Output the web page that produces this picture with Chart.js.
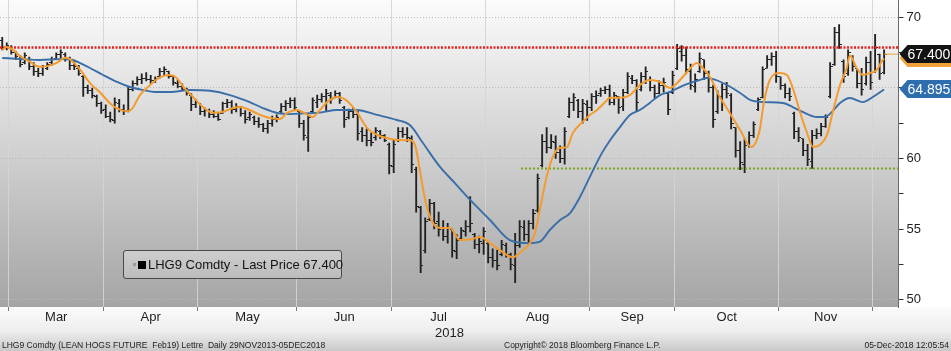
<!DOCTYPE html>
<html>
<head>
<meta charset="utf-8">
<title>LHG9 Comdty</title>
<script src="https://cdn.jsdelivr.net/npm/chart.js@4.4.1/dist/chart.umd.min.js"></script>
<style>
  body { margin: 0; background: #fff; }
  #wrap { position: relative; width: 951px; height: 351px; overflow: hidden; font-family: 'Liberation Sans', Arial, sans-serif; }
  #chart { position: absolute; left: 0; top: 0; }
  #legend { position: absolute; left: 123px; top: 250px; width: 217px; height: 27px; border: 1px solid #4a4a4a; border-radius: 3px;
            background: linear-gradient(#cecece, #bcbcbc); font-size: 13px; line-height: 27px; color: #141414; white-space: nowrap; }
  #legend .ghost { display: inline-block; width: 3px; height: 3px; background: #9a9a9a; margin: 0 2px 2px 9px; vertical-align: middle; }
  #legend .sq { display: inline-block; width: 8px; height: 8px; background: #000; margin: 0 2px 2px 0; vertical-align: middle; }
  .foot { position: absolute; top: 340px; font-size: 8.5px; color: #222; white-space: pre; }
</style>
</head>
<body>
<div id="wrap">
  <canvas id="chart" width="951" height="351"></canvas>
  <div id="legend"><span class="ghost"></span><span class="sq"></span><span id="legendText"></span></div>
  <div class="foot" style="left:2px">LHG9 Comdty (LEAN HOGS FUTURE  Feb19) Lettre  Daily 29NOV2013-05DEC2018</div>
  <div class="foot" style="left:504px">Copyright© 2018 Bloomberg Finance L.P.</div>
  <div class="foot" style="right:2px">05-Dec-2018 12:05:54</div>
</div>
<script>
// daily bars, 27 Feb 2018 -> 05 Dec 2018 (index = trading day)
var opens = [
  68.4, 67.9, 67.9, 67.5, 67.1, 66.8, 67.0, 66.5, 66.2, 66.0,
  66.4, 66.8, 67.1, 67.4, 67.4, 67.0, 66.6, 66.4, 65.8, 65.0,
  64.8, 64.4, 63.9, 63.5, 63.0, 62.7, 63.9, 63.5, 63.4, 64.9,
  65.3, 65.6, 65.7, 65.6, 65.5, 65.8, 66.2, 66.2, 65.8, 65.3,
  65.1, 64.9, 64.5, 63.8, 63.9, 63.3, 63.4, 63.1, 63.0, 63.2,
  63.9, 64.0, 63.5, 63.6, 63.2, 62.9, 62.9, 62.6, 62.4, 62.1,
  62.5, 62.8, 63.3, 63.7, 63.9, 64.1, 63.3, 62.5, 61.5, 63.3,
  64.0, 64.2, 64.4, 64.5, 64.3, 64.6, 63.6, 62.9, 63.3, 63.1,
  61.9, 61.6, 61.3, 61.5, 61.9, 61.6, 61.0, 59.4, 61.3, 61.9,
  61.7, 61.4, 59.2, 56.5, 53.5, 55.7, 56.8, 55.5, 55.1, 54.5,
  55.0, 53.4, 54.3, 54.8, 55.2, 54.6, 53.9, 54.0, 54.0, 53.0,
  52.8, 53.2, 53.8, 53.2, 52.4, 53.8, 55.1, 54.6, 55.4, 56.3,
  59.5, 61.2, 60.8, 61.1, 60.4, 60.0, 63.0, 64.0, 64.1, 63.3,
  63.8, 63.6, 64.4, 64.6, 64.8, 64.9, 64.0, 64.4, 63.7, 64.7,
  65.7, 65.5, 64.9, 65.8, 65.6, 65.0, 64.6, 65.2, 64.6, 64.7,
  66.4, 67.6, 67.3, 66.2, 65.1, 66.2, 67.0, 66.0, 65.0, 63.3,
  64.4, 64.9, 64.5, 62.2, 60.6, 59.6, 61.0, 61.6, 63.5, 64.3,
  66.4, 67.0, 67.2, 65.8, 65.2, 64.6, 63.2, 61.9, 61.4, 60.6,
  59.8, 61.6, 61.8, 62.3, 64.4, 66.7, 68.9, 66.9, 66.0, 67.2,
  66.4, 65.3, 65.3, 66.8, 66.2, 67.4, 66.1
];
var highs = [
  68.6, 68.2, 68.0, 67.6, 67.3, 67.5, 67.2, 66.8, 66.4, 66.6,
  66.8, 67.2, 67.5, 67.7, 67.5, 67.2, 66.9, 66.6, 65.9, 65.2,
  65.0, 64.5, 64.0, 63.8, 63.3, 64.3, 64.2, 63.8, 65.1, 65.5,
  65.8, 66.0, 66.1, 65.9, 65.8, 66.4, 66.5, 66.2, 65.9, 65.6,
  65.3, 65.0, 64.6, 64.2, 63.9, 63.6, 63.5, 63.4, 63.2, 64.0,
  64.2, 64.1, 63.9, 63.7, 63.4, 63.3, 63.0, 62.9, 62.5, 62.7,
  63.0, 63.1, 63.9, 64.1, 64.3, 64.3, 63.4, 62.7, 63.1, 64.3,
  64.5, 64.6, 64.9, 64.7, 64.8, 64.7, 63.7, 63.5, 63.6, 63.4,
  62.2, 62.1, 61.8, 62.2, 62.0, 61.7, 61.1, 61.3, 62.2, 62.2,
  62.2, 61.6, 59.4, 56.6, 55.8, 57.1, 56.9, 56.2, 55.6, 55.4,
  55.0, 54.6, 55.1, 55.6, 57.3, 54.7, 54.5, 55.1, 54.1, 53.6,
  53.5, 54.2, 54.0, 53.3, 54.7, 55.6, 55.6, 55.6, 56.4, 58.9,
  61.7, 62.2, 61.7, 61.6, 60.9, 62.2, 64.3, 64.6, 64.2, 64.2,
  64.1, 64.6, 64.8, 65.0, 65.1, 65.2, 64.7, 64.4, 64.9, 66.1,
  65.9, 65.6, 66.1, 66.5, 65.8, 65.2, 65.5, 65.7, 64.7, 66.2,
  68.1, 68.0, 67.9, 66.7, 66.0, 67.5, 67.0, 66.2, 65.2, 64.8,
  65.3, 65.4, 64.6, 62.2, 61.2, 61.4, 61.9, 62.6, 64.3, 66.5,
  67.3, 67.5, 67.6, 65.8, 65.3, 65.0, 63.3, 62.2, 61.4, 61.0,
  62.0, 62.1, 62.5, 63.1, 66.8, 69.3, 69.5, 67.0, 67.7, 67.3,
  66.4, 66.4, 67.2, 67.6, 68.8, 67.4, 67.7
];
var lows = [
  67.7, 67.7, 67.4, 67.0, 66.5, 66.7, 66.3, 65.9, 65.8, 65.9,
  66.3, 66.6, 67.0, 67.1, 66.9, 66.3, 66.3, 65.9, 64.4, 64.6,
  64.3, 63.7, 63.2, 62.9, 62.6, 62.5, 63.3, 63.1, 63.3, 64.8,
  65.2, 65.3, 65.5, 65.3, 65.4, 65.7, 65.9, 65.7, 65.2, 65.0,
  64.8, 64.5, 63.4, 63.6, 63.1, 63.0, 62.9, 62.9, 62.7, 63.2,
  63.6, 63.2, 63.3, 63.0, 62.5, 62.7, 62.4, 62.2, 61.9, 61.8,
  62.3, 62.6, 63.2, 63.4, 63.6, 63.4, 62.2, 61.3, 60.5, 63.2,
  63.6, 64.0, 63.4, 63.9, 64.3, 63.9, 62.2, 62.8, 62.9, 61.3,
  61.2, 60.9, 60.9, 61.3, 61.4, 61.2, 58.9, 59.0, 61.2, 61.5,
  61.2, 59.0, 56.2, 51.9, 53.3, 55.6, 55.0, 54.5, 54.2, 54.0,
  53.0, 52.9, 54.2, 54.5, 54.8, 53.6, 53.3, 53.2, 52.6, 52.3,
  52.1, 53.1, 53.0, 52.1, 51.2, 53.7, 54.2, 54.0, 55.0, 56.2,
  59.4, 60.4, 60.7, 60.0, 59.7, 59.6, 62.9, 63.4, 62.9, 62.5,
  62.7, 63.4, 63.9, 64.4, 64.6, 63.8, 63.8, 63.2, 63.4, 64.6,
  65.3, 63.4, 64.8, 65.3, 64.8, 64.3, 64.6, 64.7, 63.1, 64.6,
  66.3, 66.9, 66.0, 64.9, 64.7, 66.1, 65.6, 64.7, 62.2, 63.2,
  63.4, 64.3, 62.1, 60.1, 59.2, 59.0, 60.8, 61.5, 63.4, 64.3,
  66.4, 66.6, 65.4, 64.9, 64.3, 64.1, 61.4, 61.2, 60.2, 59.5,
  59.3, 61.4, 61.6, 62.2, 64.3, 66.6, 67.8, 65.4, 65.9, 66.2,
  65.0, 64.5, 65.2, 64.9, 66.1, 65.6, 66.0
];
var closes = [
  67.9, 68.0, 67.5, 67.2, 66.7, 67.3, 66.5, 66.2, 66.0, 66.5,
  66.7, 67.0, 67.4, 67.5, 67.1, 66.6, 66.5, 66.0, 65.0, 64.8,
  64.5, 63.9, 63.4, 63.0, 62.8, 64.0, 63.5, 63.3, 64.9, 65.3,
  65.6, 65.7, 65.6, 65.5, 65.7, 66.2, 66.3, 65.8, 65.4, 65.1,
  64.9, 64.6, 63.8, 64.0, 63.3, 63.4, 63.1, 63.0, 62.8, 63.9,
  64.0, 63.5, 63.7, 63.2, 62.8, 63.1, 62.6, 62.4, 62.1, 62.5,
  62.8, 62.9, 63.7, 63.9, 64.1, 63.6, 62.5, 61.6, 62.9, 64.1,
  64.2, 64.4, 64.6, 64.2, 64.6, 64.1, 62.8, 63.3, 63.1, 61.8,
  61.6, 61.3, 61.1, 62.0, 61.6, 61.3, 59.5, 61.0, 61.9, 61.7,
  61.5, 59.6, 56.6, 52.4, 55.5, 56.8, 55.4, 55.0, 54.5, 55.1,
  53.5, 54.2, 54.9, 55.2, 55.4, 53.9, 54.1, 54.8, 53.0, 52.8,
  52.4, 53.9, 53.2, 52.5, 53.8, 55.2, 54.6, 55.4, 56.1, 58.6,
  61.2, 60.8, 61.2, 60.4, 60.0, 61.9, 64.0, 64.3, 63.3, 63.9,
  63.6, 64.4, 64.5, 64.8, 64.9, 64.0, 64.5, 63.6, 64.7, 65.8,
  65.5, 64.0, 65.8, 66.2, 65.0, 64.6, 65.2, 65.4, 63.5, 65.9,
  67.8, 67.3, 66.3, 65.2, 65.6, 67.1, 66.0, 65.0, 62.8, 64.4,
  64.9, 64.6, 62.5, 60.6, 59.7, 60.9, 61.6, 62.4, 64.2, 66.3,
  67.0, 67.2, 65.8, 65.2, 64.6, 64.4, 61.9, 61.5, 60.6, 59.9,
  61.6, 61.8, 62.3, 62.9, 66.5, 68.9, 68.1, 65.8, 67.5, 66.5,
  65.3, 64.9, 66.8, 65.4, 67.9, 66.0, 67.4
];

// moving averages at these bar positions
var fastIdx = [0, 1, 2.4, 4, 6.2, 8.4, 10, 12.2, 14, 15, 17.3, 19.5, 21.7, 24, 25.5, 27.7, 28.8, 30.6, 32.8, 35,
  37.3, 38.8, 40.2, 42.4, 44.6, 46.8, 49, 51.3, 52.8, 55, 57.3, 59.5, 61.7, 63.3, 65.5, 67.3, 69, 70.6, 72.2, 74.4,
  76.6, 78.8, 81.1, 83.3, 85.5, 87.7, 90.6, 91.7, 92.8, 94, 95.1, 96.6, 98, 99.5, 101.7, 104, 106.2, 108.4, 110.6, 113.5,
  115, 117.3, 118.4, 119.5, 121, 122.2, 123.8, 125.5, 126.8, 129, 130.6, 132.2, 134, 135.1, 137.3, 139.5, 141.7, 143.9, 146.2, 148.4,
  150, 152.2, 154.4, 155.7, 157.3, 159.5, 161.7, 164, 166.5, 168.3, 169.3, 170.6, 172.8, 174.4, 175.7, 177.3, 178.8, 180.2, 181.7, 183.3,
  184.6, 186.2, 187.7, 188.4, 189.9, 191.3, 192.8, 194.4, 195.3, 196];
var fastVal = [67.7, 67.9, 67.7, 67.25, 66.85, 66.5, 66.55, 66.8, 67.15, 67.05, 66.3, 65.35, 64.7, 63.9, 63.55, 63.35, 63.5, 64.5, 65.2, 65.75,
  65.92, 65.7, 65.1, 64.36, 63.65, 63.25, 63.3, 63.58, 63.65, 63.44, 63.09, 62.87, 62.8, 63.23, 63.44, 63.2, 62.94, 63.44, 64.0, 64.36,
  64.1, 63.3, 62.16, 61.67, 61.45, 61.31, 61.3, 61.0, 59.2, 57.06, 55.85, 55.14, 55.07, 55.07, 54.22, 54.25, 54.43, 54.0, 53.5, 53.0,
  53.3, 54.0, 54.72, 56.4, 58.7, 60.0, 60.75, 60.8, 61.8, 62.6, 63.09, 63.44, 64.0, 64.3, 64.3, 64.5, 65.21, 65.57, 65.43, 65.0,
  65.35, 66.13, 66.77, 66.42, 65.78, 64.36, 63.23, 62.02, 60.82, 61.95, 64.0, 65.57, 66.06, 65.92, 65.0, 63.3, 61.88, 60.82, 60.96, 61.67,
  63.3, 65.21, 66.42, 67.3, 66.42, 65.92, 66.06, 66.28, 66.8, 67.1];
var slowIdx = [0, 3.9, 8.4, 12.8, 15.5, 17.3, 19.5, 22.4, 25.5, 28.4, 31.3, 33.9, 37.3, 41.7, 46.2, 50.6, 55, 57.9, 61.1, 63.9,
  67.3, 70.6, 74.4, 78.8, 83.3, 87.7, 90.6, 93.5, 97.3, 100.6, 104, 108.4, 112.8, 117.3, 119.5, 121.7, 124, 126.2, 128.4, 130.6,
  133.3, 135.1, 137.3, 139.5, 141.7, 143.9, 146.2, 148.4, 150.6, 152.8, 155.1, 156.6, 158.4, 161.1, 164, 166.2, 169, 173.5, 175.7, 177.9,
  181.1, 182.8, 184.4, 186.2, 188.4, 191.3, 193.5, 196];
var slowVal = [67.13, 67.06, 66.99, 67.05, 67.0, 66.77, 66.42, 65.92, 65.43, 65.07, 64.86, 64.72, 64.72, 64.86, 64.8, 64.5, 64.0, 63.58, 63.23, 63.15,
  63.2, 63.25, 63.44, 63.44, 63.09, 62.73, 62.37, 61.1, 59.4, 58.26, 57.06, 55.64, 54.22, 54.0, 54.1, 54.93, 55.64, 56.13, 57.27, 58.7,
  60.4, 61.3, 62.23, 63.09, 63.44, 63.94, 64.5, 64.72, 65.07, 65.35, 65.57, 65.71, 65.6, 65.21, 64.65, 64.15, 64.0, 63.94, 63.65, 63.3,
  62.94, 62.94, 63.3, 63.94, 64.29, 64.0, 64.36, 64.895];

var redLevel = 67.87;
var greenLevel = 59.3;
var greenStart = 115.3;

var monthBounds = [1.5, 22.5, 43.5, 65.5, 86.5, 107.5, 130.5, 149.5, 172.5, 193.5];
var monthMid = [12, 33, 54.5, 76, 97, 119, 140, 161, 183];
var monthLabels = ['Mar', 'Apr', 'May', 'Jun', ['Jul', '      2018'], 'Aug', 'Sep', 'Oct', 'Nov'];
var yTicks = [50, 52.5, 55, 57.5, 60, 62.5, 65, 67.5, 70];

var xMin = -0.5, xMax = 199.2;
var lastPrice = closes[closes.length - 1];
document.getElementById('legendText').textContent = 'LHG9 Comdty - Last Price ' + lastPrice.toFixed(3);

Chart.defaults.font.family = "'Liberation Sans', Arial, sans-serif";

function tickImg(side) {
  var c = document.createElement('canvas');
  c.width = 5; c.height = 1;
  var g = c.getContext('2d');
  g.fillStyle = '#222222';
  g.fillRect(side < 0 ? 0 : 3, 0, 2, 1);
  return c;
}
var openTick = tickImg(-1), closeTick = tickImg(1);

// no extra room round the plot: it fills the canvas up to the axes
function noPad(s) {
  s.paddingTop = 0; s.paddingBottom = 0; s.paddingLeft = 0; s.paddingRight = 0;
}

var backdrop = {
  id: 'backdrop',
  beforeDraw: function(chart) {
    var ctx = chart.ctx, a = chart.chartArea, w = chart.width, h = chart.height;
    ctx.save();
    ctx.fillStyle = '#ffffff';
    ctx.fillRect(0, 0, w, h);
    var g = ctx.createLinearGradient(0, a.top, 0, a.bottom);
    g.addColorStop(0, '#fbfbfb');
    g.addColorStop(1, '#a5a5a5');
    ctx.fillStyle = g;
    ctx.fillRect(a.left, a.top, a.right - a.left, a.bottom - a.top);
    g = ctx.createLinearGradient(0, a.bottom, 0, h);
    g.addColorStop(0, '#fbfbfb');
    g.addColorStop(0.55, '#eeeeee');
    g.addColorStop(1, '#c8c8c8');
    ctx.fillStyle = g;
    ctx.fillRect(0, a.bottom, w, h - a.bottom);
    ctx.restore();
  }
};

var valueTags = {
  id: 'valueTags',
  afterDraw: function(chart) {
    var ctx = chart.ctx, y = chart.scales.y, x0 = chart.chartArea.right + 1;
    function tag(val, fill, color) {
      var yc = Math.round(y.getPixelForValue(val));
      ctx.save();
      ctx.beginPath();
      ctx.moveTo(x0, yc);
      ctx.lineTo(x0 + 8, yc - 9);
      ctx.lineTo(chart.width, yc - 9);
      ctx.lineTo(chart.width, yc + 9);
      ctx.lineTo(x0 + 8, yc + 9);
      ctx.closePath();
      ctx.fillStyle = fill;
      ctx.fill();
      ctx.fillStyle = color;
      ctx.font = "14px 'Liberation Sans', Arial, sans-serif";
      ctx.textAlign = 'left';
      ctx.textBaseline = 'middle';
      ctx.fillText(val.toFixed(3), x0 + 8, yc + 1);
      ctx.restore();
    }
    tag(fastVal[fastVal.length - 1], '#f2a03a', '#222222');
    tag(lastPrice, '#121212', '#ffffff');
    tag(slowVal[slowVal.length - 1], '#2f6eae', '#ffffff');
  }
};

function pts(xs, ys) {
  return xs.map(function(x, i) { return {x: x, y: ys[i]}; });
}

new Chart(document.getElementById('chart'), {
  type: 'line',
  data: {
    datasets: [
      {
        type: 'bar', label: 'range', order: 10,
        data: closes.map(function(c, i) { return {x: i, y: [lows[i], highs[i]]}; }),
        backgroundColor: '#222222', barThickness: 1.2, grouped: false
      },
      {
        label: 'open', order: 9, showLine: false,
        data: opens.map(function(o, i) { return {x: i, y: o}; }),
        pointStyle: openTick, pointRadius: 2
      },
      {
        label: 'close', order: 9, showLine: false,
        data: closes.map(function(c, i) { return {x: i, y: c}; }),
        pointStyle: closeTick, pointRadius: 2
      },
      {
        label: 'red', order: 5,
        data: [{x: xMin, y: redLevel}, {x: xMax, y: redLevel}],
        borderColor: '#e8211c', borderWidth: 2.5, borderDash: [2, 1.5], pointRadius: 0
      },
      {
        label: 'green', order: 5,
        data: [{x: greenStart, y: greenLevel}, {x: xMax, y: greenLevel}],
        borderColor: '#74a51c', borderWidth: 2, borderDash: [2, 2], pointRadius: 0
      },
      {
        label: 'slow', order: 3,
        data: pts(slowIdx, slowVal),
        borderColor: '#3a6ea8', borderWidth: 1.9, pointRadius: 0, cubicInterpolationMode: 'monotone'
      },
      {
        label: 'fast', order: 2,
        data: pts(fastIdx, fastVal),
        borderColor: '#f39b2e', borderWidth: 2, pointRadius: 0, cubicInterpolationMode: 'monotone'
      },
      {
        label: 'last', order: 1,
        data: [{x: closes.length - 1, y: lastPrice}, {x: xMax, y: lastPrice}],
        borderColor: '#f0a040', borderWidth: 1, pointRadius: 0
      }
    ]
  },
  options: {
    responsive: false,
    animation: false,
    events: [],
    layout: { padding: 0, autoPadding: false },
    plugins: { legend: { display: false }, tooltip: { enabled: false } },
    scales: {
      x: {
        type: 'linear', position: 'bottom', weight: 0, min: xMin, max: xMax, offset: false,
        afterBuildTicks: function(s) { s.ticks = monthBounds.map(function(v) { return {value: v}; }); },
        afterFit: function(s) { s.height = 0; noPad(s); },
        ticks: { display: false, autoSkip: false },
        grid: { color: 'rgba(212,212,212,0.9)', lineWidth: 1, drawTicks: true, tickLength: 4, tickColor: '#7a7a7a', offset: false },
        border: { display: false }
      },
      x2: {
        type: 'linear', position: 'bottom', weight: 1, min: xMin, max: xMax, offset: false,
        afterBuildTicks: function(s) { s.ticks = monthMid.map(function(v) { return {value: v}; }); },
        afterFit: function(s) { s.height = 44; noPad(s); },
        ticks: {
          autoSkip: false, maxRotation: 0, padding: 3, color: '#1e1e1e', font: { size: 13 },
          callback: function(v, i) { return monthLabels[i]; }
        },
        grid: { display: false, drawTicks: false, offset: false },
        border: { display: false }
      },
      y: {
        type: 'linear', position: 'right', min: 49.47, max: 71.24,
        afterBuildTicks: function(s) { s.ticks = yTicks.map(function(v) { return {value: v}; }); },
        afterFit: function(s) { s.width = 52.5; noPad(s); },
        ticks: {
          autoSkip: false, padding: 3, color: '#1e1e1e', font: { size: 13 },
          callback: function(v) { return v % 5 === 0 ? String(v) : ''; }
        },
        grid: {
          color: function(c) { return c.tick && c.tick.value % 5 === 0 ? '#b8b8b8' : 'rgba(0,0,0,0)'; },
          tickColor: '#333333', tickLength: 5
        },
        border: { display: true, color: '#6a6a6a', dash: [1, 2] }
      }
    }
  },
  plugins: [backdrop, valueTags]
});
</script>
</body>
</html>
